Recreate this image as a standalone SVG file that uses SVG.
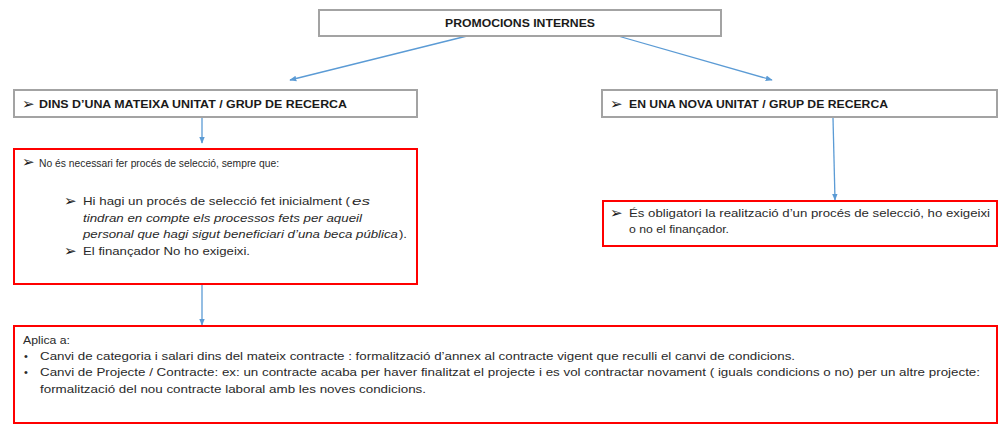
<svg xmlns="http://www.w3.org/2000/svg" width="998" height="425" viewBox="0 0 998 425">
<defs>
<marker id="ah" viewBox="0 0 10 10" refX="9" refY="5" markerWidth="7" markerHeight="7" orient="auto" markerUnits="userSpaceOnUse">
<path d="M0,1 L10,5 L0,9 z" fill="#5b9bd5"/>
</marker>
<style>
.gbox{fill:#fff;stroke:#a3a3a3;stroke-width:2}
.rbox{fill:#fff;stroke:#ff0000;stroke-width:2}
.hd{font-family:"Liberation Sans",Arial,sans-serif;font-weight:bold;font-size:11px;fill:#1a1a1a}
.tx{font-family:"Liberation Sans",Arial,sans-serif;font-size:11px;fill:#2a2a2a}
.sm{font-size:11px}
.it{font-style:italic}
.bl{font-family:"DejaVu Sans",sans-serif;font-size:15px;fill:#1a1a1a}
.conn{stroke:#5b9bd5;stroke-width:1.3;fill:none;marker-end:url(#ah)}
</style>
</defs>
<rect width="998" height="425" fill="#fff"/>
<g id="connectors">
<line class="conn" x1="467" y1="36" x2="290" y2="80"/>
<line class="conn" x1="618" y1="36" x2="772" y2="80"/>
<line class="conn" x1="202" y1="118" x2="202" y2="143"/>
<line class="conn" x1="833" y1="118" x2="835" y2="200"/>
<line class="conn" x1="202" y1="285" x2="202" y2="325"/>
</g>
<g id="node-promocions">
<rect class="gbox" x="319" y="10" width="402" height="26"/>
<text class="hd" x="445" y="27" textLength="150" lengthAdjust="spacingAndGlyphs">PROMOCIONS INTERNES</text>
</g>
<g id="node-dins">
<rect class="gbox" x="14" y="90" width="403" height="27"/>
<text class="bl" x="22" y="109">➢</text>
<text class="hd" x="39" y="108" textLength="308" lengthAdjust="spacingAndGlyphs">DINS D’UNA MATEIXA UNITAT / GRUP DE RECERCA</text>
</g>
<g id="node-nova">
<rect class="gbox" x="602" y="90" width="395" height="27"/>
<text class="bl" x="610" y="109">➢</text>
<text class="hd" x="629" y="108" textLength="259" lengthAdjust="spacingAndGlyphs">EN UNA NOVA UNITAT / GRUP DE RECERCA</text>
</g>
<g id="node-no-necessari">
<rect class="rbox" x="14" y="149" width="403" height="135"/>
<text class="bl" x="22" y="167">➢</text>
<text class="tx sm" x="39" y="167" textLength="240" lengthAdjust="spacingAndGlyphs">No és necessari fer procés de selecció, sempre que:</text>
<text class="bl" x="64" y="206">➢</text>
<text class="tx" x="83" y="205" textLength="267" lengthAdjust="spacingAndGlyphs">Hi hagi un procés  de selecció fet inicialment ( </text>
<text class="tx it" x="352" y="205" textLength="18" lengthAdjust="spacingAndGlyphs">es</text>
<text class="tx it" x="83" y="222" textLength="279" lengthAdjust="spacingAndGlyphs">tindran en compte els processos fets per aqueil</text>
<text class="tx it" x="83" y="238" textLength="315" lengthAdjust="spacingAndGlyphs">personal que hagi sigut beneficiari d’una beca pública</text>
<text class="tx" x="399" y="238" textLength="8" lengthAdjust="spacingAndGlyphs">).</text>
<text class="bl" x="64" y="256">➢</text>
<text class="tx" x="83" y="255" textLength="167" lengthAdjust="spacingAndGlyphs">El finançador No ho exigeixi.</text>
</g>
<g id="node-obligatori">
<rect class="rbox" x="603" y="201" width="394" height="45"/>
<text class="bl" x="610" y="218">➢</text>
<text class="tx" x="629" y="217" textLength="361" lengthAdjust="spacingAndGlyphs">És obligatori la realització d’un procés de selecció, ho exigeixi</text>
<text class="tx" x="629" y="233" textLength="100" lengthAdjust="spacingAndGlyphs">o no el finançador.</text>
</g>
<g id="node-aplica">
<rect class="rbox" x="14" y="326" width="983" height="97"/>
<text class="tx" x="23" y="344" textLength="47" lengthAdjust="spacingAndGlyphs">Aplica a:</text>
<text class="tx" x="24" y="360">•</text>
<text class="tx" x="40" y="360" textLength="755" lengthAdjust="spacingAndGlyphs">Canvi de categoria i salari dins del mateix contracte : formalització d’annex  al contracte vigent que reculli el canvi de condicions.</text>
<text class="tx" x="24" y="376">•</text>
<text class="tx" x="40" y="376" textLength="940" lengthAdjust="spacingAndGlyphs">Canvi de Projecte / Contracte: ex: un contracte acaba per haver finalitzat el projecte i es vol contractar novament ( iguals condicions o no) per un altre projecte:</text>
<text class="tx" x="40" y="393" textLength="386" lengthAdjust="spacingAndGlyphs">formalització del nou contracte laboral amb les noves condicions.</text>
</g>
</svg>
